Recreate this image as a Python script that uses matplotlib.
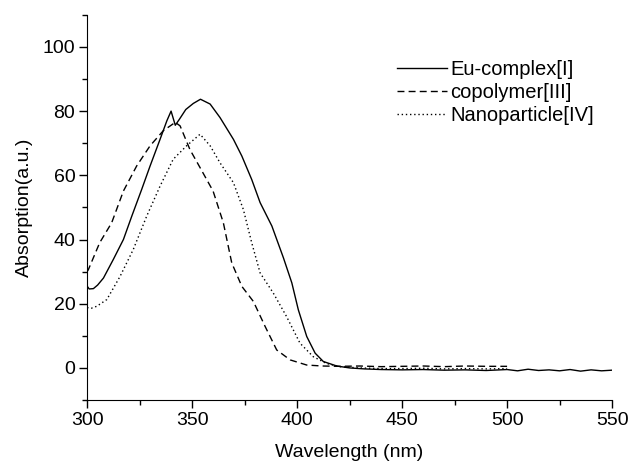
import matplotlib
matplotlib.use("Agg")
import matplotlib.pyplot as plt
from matplotlib.ticker import MultipleLocator

plt.rcParams['font.family'] = ['Liberation Sans', 'DejaVu Sans']

# Eu-complex[I]
eu_x = [300, 301, 303, 305, 307.8, 312.5, 317.3, 321.3, 326, 330, 334.8, 338, 340, 342, 344, 347,
        350.6, 354, 358.6, 363.3, 369.7, 373.7, 378.4, 382.4, 388, 393.5, 397.5, 400.6, 404.6,
        408.6, 412.5, 418.9, 425, 432, 440, 450, 460, 470, 480, 490, 500, 505, 510, 515, 520,
        525, 530, 535, 540, 545, 550]
eu_y = [25.5, 24.6, 24.7, 25.8, 28, 33.8, 40, 47.3, 55.6, 62.9, 71.3, 77, 80, 75.6, 77.5, 80.5,
        82.4, 83.7, 82.2, 78, 71.2, 66, 58.7, 51.5, 44.2, 34.3, 26.5, 18.1, 9.8,
        4.6, 2.0, 0.6, 0.0, -0.3, -0.5, -0.6, -0.5, -0.7, -0.6, -0.8, -0.5, -0.9, -0.4, -0.8, -0.6,
        -0.9, -0.5, -1.0, -0.6, -0.9, -0.7]

# copolymer[III]
co_x = [300, 300.6, 306, 311.7, 317.3, 323.6, 330, 336.3, 342, 344.3, 349, 353.8, 360, 364.9,
        368.9, 373.7, 379.2, 384.8, 390.3, 396.7, 404.6, 412, 420, 430, 440, 450, 460, 470, 480,
        490, 500]
co_y = [30, 30.6, 39, 45.2, 55.1, 62.9, 69.2, 73.9, 76.5, 75.4, 68, 62.4, 55.1, 45.2,
        32.7, 25.4, 20.7, 12.9, 5.6, 2.5, 0.9, 0.6, 0.5, 0.6, 0.4, 0.5, 0.6, 0.4, 0.6,
        0.5, 0.5]

# Nanoparticle[IV]
na_x = [300, 302, 304.6, 309.4, 315.7, 322, 328.4, 334.8, 341, 347.4, 353.8, 358.6, 363.3,
        369.7, 374.4, 378.4, 382.4, 388.7, 395, 401.4, 407.7, 414, 420, 430, 440, 450, 460,
        470, 480, 490, 500]
na_y = [18.8, 18.6, 19.2, 21.3, 28.5, 36.9, 47.3, 56.7, 65, 69.2, 72.8, 69.2, 63.9,
        57.7, 49.4, 39, 29.6, 23.3, 16, 7.7, 3.5, 1.4, 0.4, 0.0, -0.2, -0.2, -0.1,
        -0.3, -0.2, -0.3, -0.2]

fig = plt.figure(figsize=(6.31, 4.63), dpi=100)
ax = fig.add_axes([0.138, 0.136, 0.832, 0.832])

ax.plot(eu_x, eu_y, color='black', lw=1.0, ls='-', label='Eu-complex[I]')
ax.plot(co_x, co_y, color='black', lw=1.0, ls=(0, (5, 3)), label='copolymer[III]')
ax.plot(na_x, na_y, color='black', lw=1.0, ls=(0, (1, 2)), label='Nanoparticle[IV]')

ax.set_xlim(300, 550)
ax.set_ylim(-10, 110)
ax.xaxis.set_major_locator(MultipleLocator(50))
ax.xaxis.set_minor_locator(MultipleLocator(25))
ax.yaxis.set_minor_locator(MultipleLocator(10))
ax.set_yticks([0, 20, 40, 60, 80, 100])
ax.spines['top'].set_visible(False)
ax.spines['right'].set_visible(False)
ax.tick_params(which='major', direction='out', length=6, width=1, labelsize=14, pad=2.5)
ax.tick_params(which='minor', direction='out', length=3.5, width=1)
ax.set_xlabel('Wavelength (nm)', fontsize=14, labelpad=11)
ax.set_ylabel('Absorption(a.u.)', fontsize=14, labelpad=7)

ax.legend(loc='upper left', bbox_to_anchor=(397 / 631, 1 - 60 / 463),
          bbox_transform=fig.transFigure, borderaxespad=0, borderpad=0,
          frameon=False, fontsize=14.5,
          handlelength=2.5, handletextpad=0.15, labelspacing=0.2)

fig.savefig('out.png', dpi=100)
